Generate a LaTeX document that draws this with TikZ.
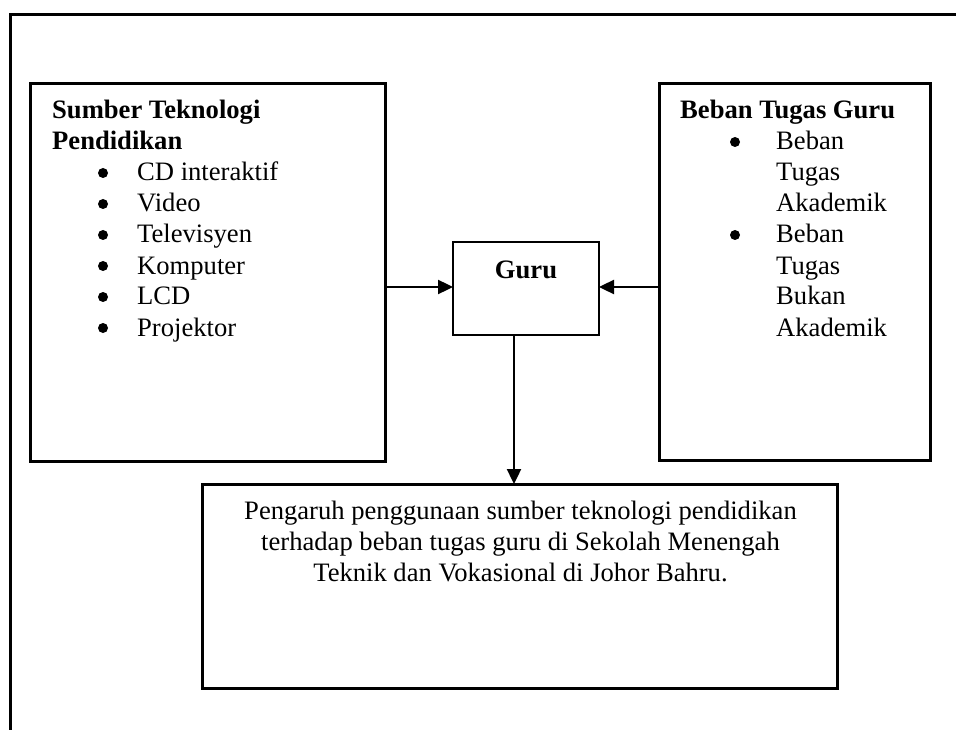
\documentclass[tikz,border=0pt]{standalone}
\usepackage{fontspec}
\setmainfont{Liberation Serif}
\usetikzlibrary{arrows.meta}
\begin{document}
\begin{tikzpicture}[x=1pt,y=-1pt,
  box/.style={draw, line width=3pt, inner sep=0pt, outer sep=0pt, anchor=north west},
  txt/.style={anchor=base west, inner sep=0pt, font=\fontsize{26.6}{30.6}\selectfont},
  btxt/.style={anchor=base west, inner sep=0pt, font=\fontsize{26.6}{30.6}\selectfont\bfseries},
  ctxt/.style={anchor=base, inner sep=0pt, font=\fontsize{26.6}{30.6}\selectfont},
  bul/.style={circle, fill=black, inner sep=0pt, minimum size=10pt},
  conn/.style={line width=2.4pt, -{Triangle[length=15pt,width=14pt]}},
  frame/.style={line width=3pt}]
\useasboundingbox (0,0) rectangle (956,730);
% outer frame (partial)
\coordinate (fTR) at (956,15);
\coordinate (fTL) at (10,15);
\coordinate (fBL) at (10,730);
\draw[frame] (fTR) -- (fTL) -- (fBL);
% boxes
\node[box, minimum width=355pt, minimum height=377pt] (left) at (30,84) {};
\node[box, minimum width=271pt, minimum height=376pt] (right) at (659,84) {};
\node[box, line width=2.5pt, minimum width=146pt, minimum height=93pt] (guru) at (453,242) {};
\node[box, minimum width=635pt, minimum height=204pt] (bottom) at (202,484) {};
% left box text
\node[btxt] (l1) at (52,119) {Sumber Teknologi};
\node[btxt] (l2) at (52,150) {Pendidikan};
\foreach \t [count=\i] in {CD interaktif,Video,Televisyen,Komputer,LCD,Projektor}{
  \node[bul] (lb\i) at (103,142+31*\i) {};
  \node[txt] (lt\i) at (137,150+31*\i) {\t};
}
% right box text
\node[btxt] (r0) at (680,119) {Beban Tugas Guru};
\node[bul] (rb1) at (735,142) {};
\node[txt] (r1) at (776,150) {Beban};
\node[txt] (r2) at (776,181) {Tugas};
\node[txt] (r3) at (776,212) {Akademik};
\node[bul] (rb2) at (735,235) {};
\node[txt] (r4) at (776,243) {Beban};
\node[txt] (r5) at (776,274) {Tugas};
\node[txt] (r6) at (776,305) {Bukan};
\node[txt] (r7) at (776,336) {Akademik};
% guru text
\node[ctxt, font=\fontsize{26.6}{30.6}\selectfont\bfseries] (gt) at (526,278) {Guru};
% bottom text
\node[ctxt] (b1) at (520.5,519) {Pengaruh penggunaan sumber teknologi pendidikan};
\node[ctxt] (b2) at (520.5,550) {terhadap beban tugas guru di Sekolah Menengah};
\node[ctxt] (b3) at (520.5,581) {Teknik dan Vokasional di Johor Bahru.};
% connectors
\draw[conn] (left.east |- 0,287) -- (guru.west |- 0,287);
\draw[conn] (right.west |- 0,287) -- (guru.east |- 0,287);
\coordinate (gdown) at (514,335);
\draw[conn] (gdown) -- (gdown |- bottom.north);
\end{tikzpicture}
\end{document}
